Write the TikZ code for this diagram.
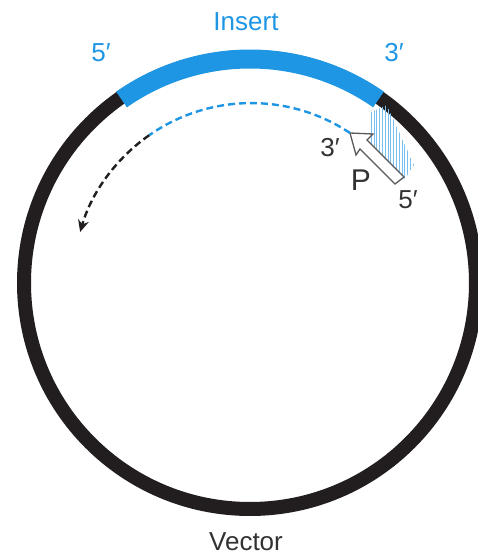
\documentclass[tikz,border=0pt]{standalone}
\usepackage{fontspec}
\setmainfont{Liberation Sans}
\usetikzlibrary{arrows.meta}
\definecolor{insblue}{RGB}{30,150,228}
\definecolor{ringblack}{RGB}{34,30,31}
\definecolor{txtgray}{RGB}{50,50,50}

\begin{document}
\begin{tikzpicture}[x=1pt, y=1pt,
    ring/.style={draw=ringblack, line width=14pt},
    insertarc/.style={draw=insblue, line width=19pt},
    ext/.style={line width=2.4pt, dash pattern=on 7pt off 4pt},
    primer/.style={draw=gray!70!black, fill=white, line width=1.3pt, line join=miter},
    hatch/.style={draw=insblue!60, line width=0.8pt},
    lbl/.style={font=\fontsize{26}{30}\selectfont, inner sep=0pt}]
  \clip (0,0) rectangle (478,558);
  \coordinate (c) at (250,275);
  % vector ring with the insert on top
  \draw[ring] (c) circle[radius=226];
  \draw[insertarc] (c) ++(55:224) arc[start angle=55, end angle=125, radius=224];
  \node[lbl, text=insblue] (ins) at (246,536) {Insert};
  \node[lbl, text=insblue] (ins5) at (101,505) {5′};
  \node[lbl, text=insblue] (ins3) at (394,505) {3′};
  \node[lbl, text=txtgray] (vec) at (246,16) {Vector};
  % primer annealed to the insert
  \begin{scope}
    \clip (371,446) -- (387,453) -- (414,393) -- (405,379) -- (371,413) -- cycle;
    \foreach \x in {360,362.8,...,420} \draw[hatch] (\x,370) -- (\x,460);
  \end{scope}
  \coordinate (tip) at (350,425);
  \draw[primer] (tip) -- (373,424) -- (367,418) -- (404,381) -- (395,374)
    -- (360,409) -- (356,403) -- cycle;
  \node[lbl, font=\fontsize{30}{34}\selectfont, text=txtgray] (p) at (361,378) {P};
  \node[lbl, text=txtgray] (p3) at (330,410) {3′};
  \node[lbl, text=txtgray] (p5) at (408,358) {5′};
  % extension
  \draw[ext, insblue] (tip) arc[start angle=56.3, end angle=125, radius=178] coordinate (mid);
  \draw[ext, ringblack, -{Stealth[length=12pt, width=11pt, inset=4pt]}] (mid)
    arc[start angle=125, end angle=164, radius=178];
\end{tikzpicture}
\end{document}
